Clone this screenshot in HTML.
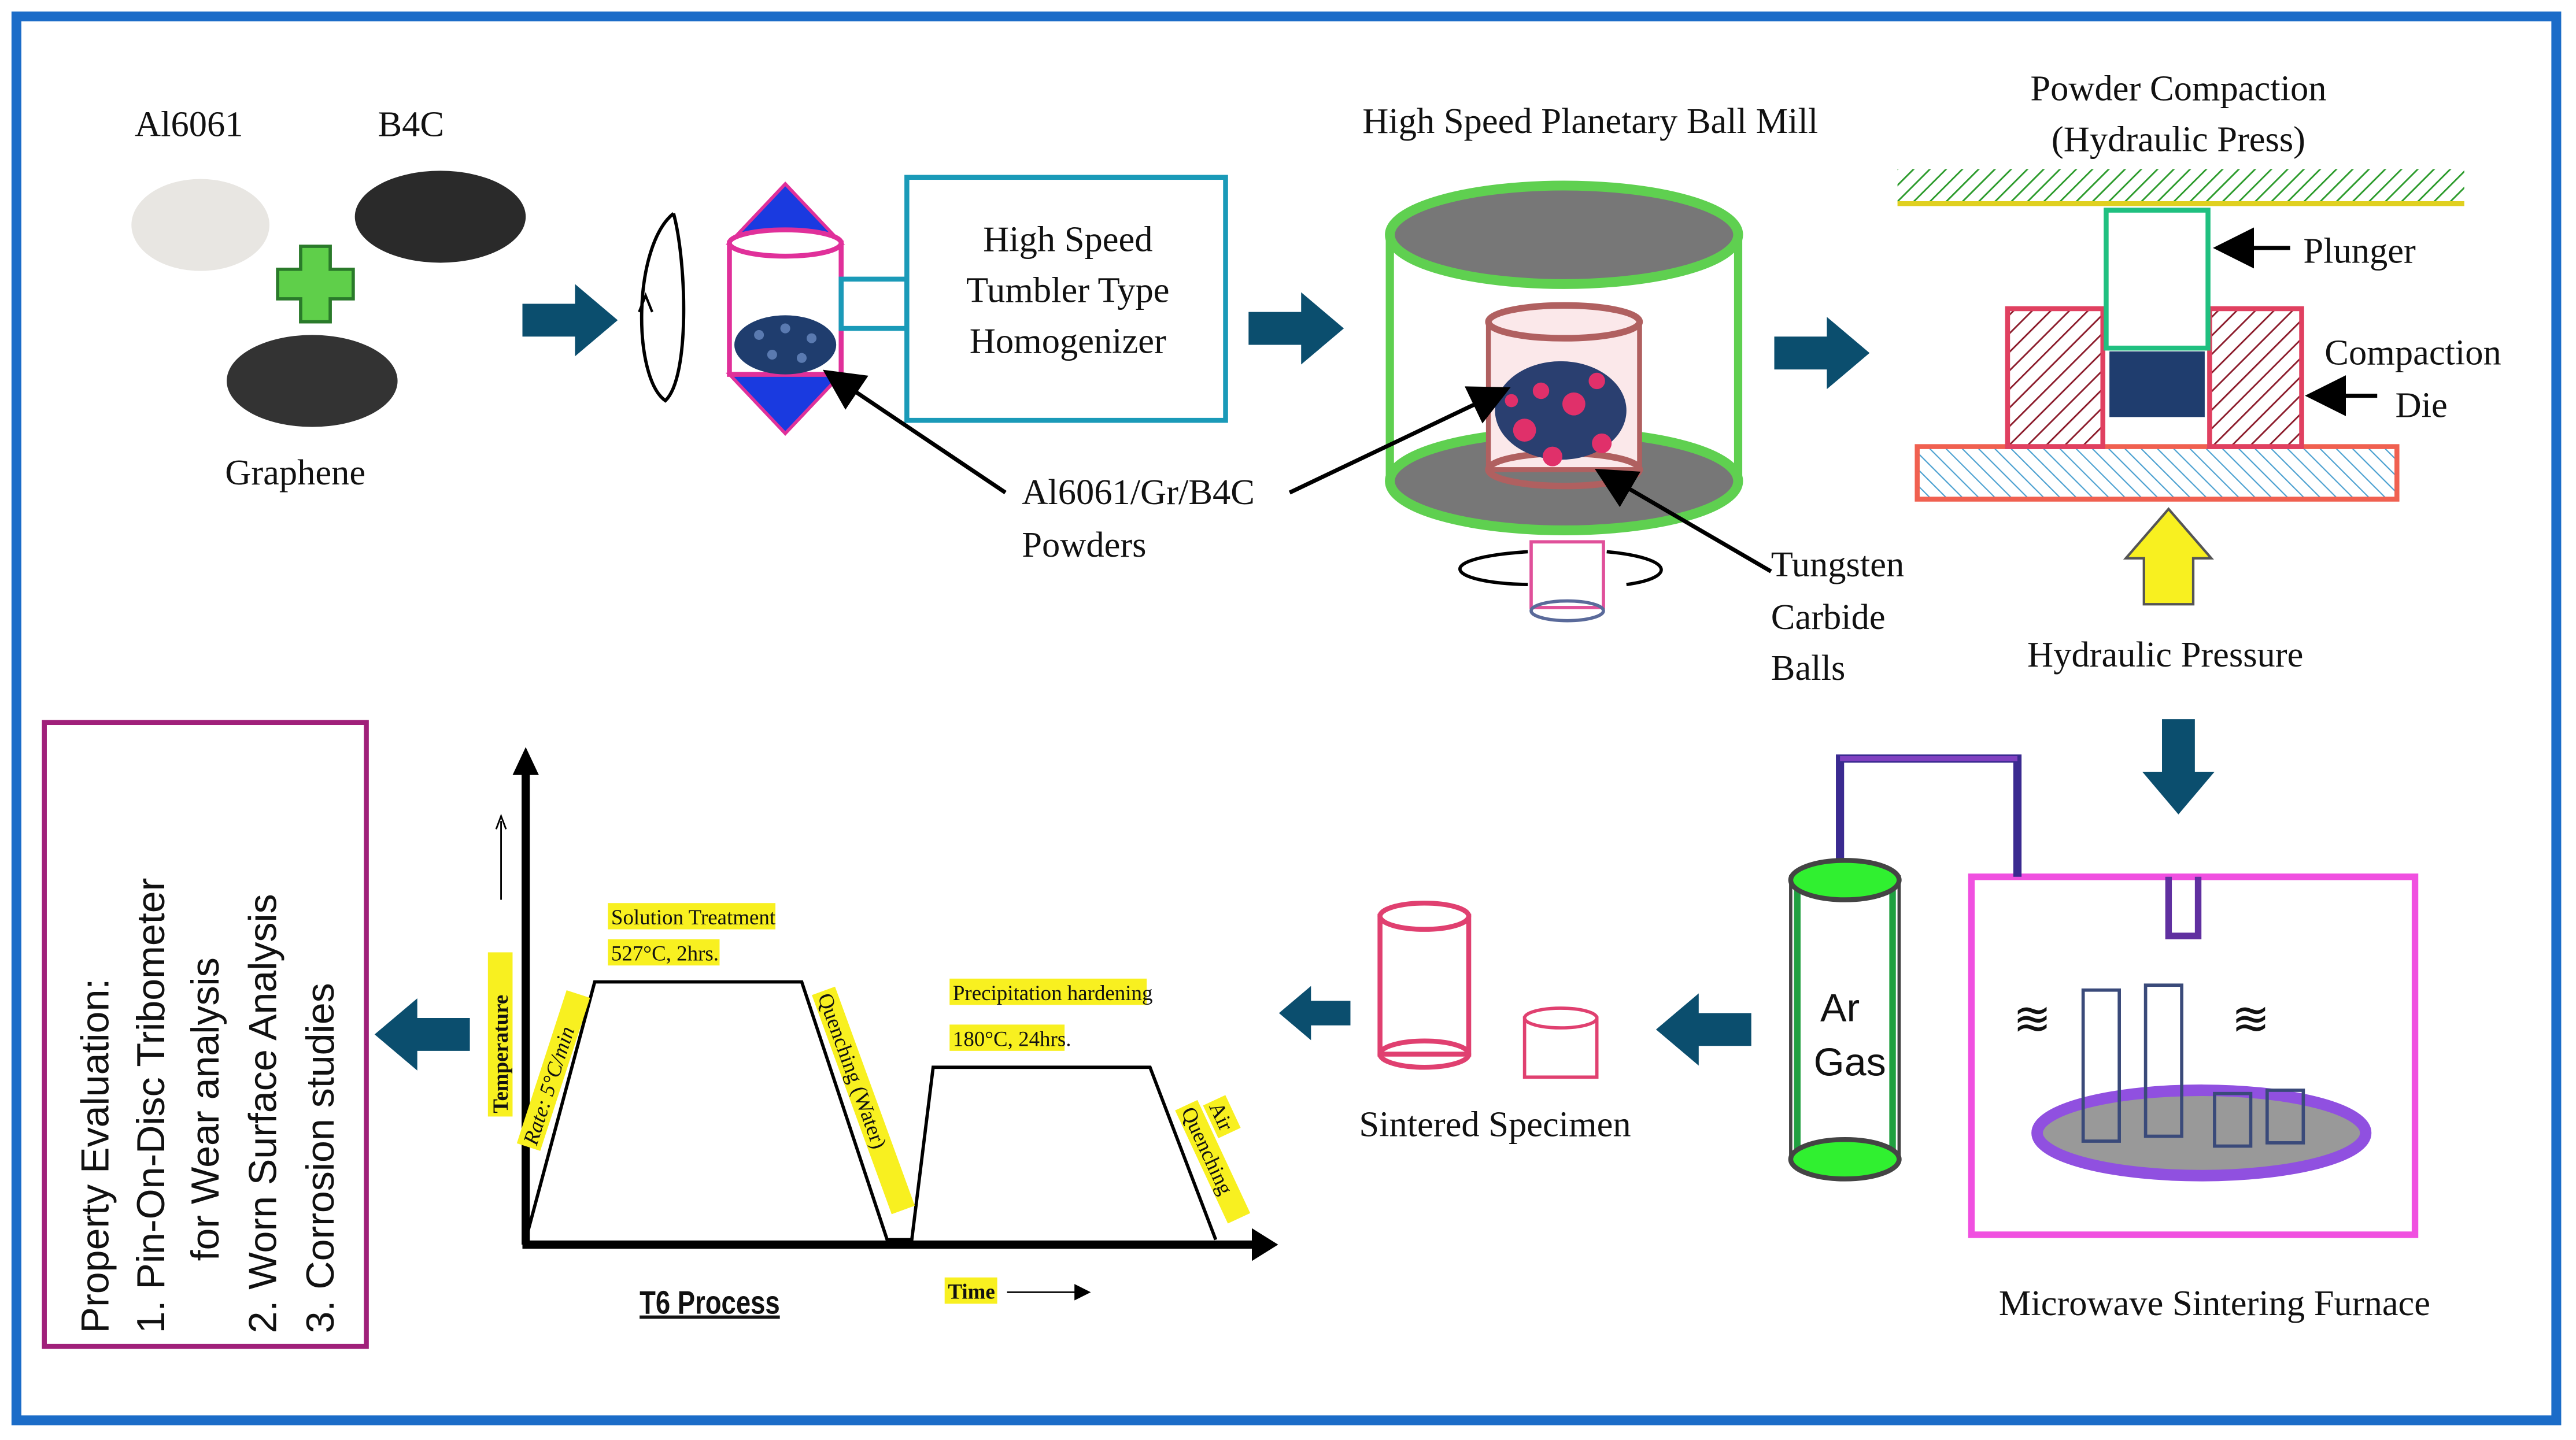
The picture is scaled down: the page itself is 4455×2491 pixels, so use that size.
<!DOCTYPE html>
<html><head><meta charset="utf-8"><style>
html,body{margin:0;padding:0;background:#fff;}
svg{display:block;}
text{font-family:"Liberation Serif",serif;fill:#111;}
.s{font-family:"Liberation Sans",sans-serif;}
</style></head><body>
<svg width="4455" height="2491" viewBox="0 0 1568 877" preserveAspectRatio="none" xmlns="http://www.w3.org/2000/svg">
<defs>
<pattern id="h1" width="8" height="8" patternUnits="userSpaceOnUse" patternTransform="rotate(45)"><line x1="0" y1="0" x2="0" y2="8" stroke="#8b1a2a" stroke-width="2"/></pattern>
<pattern id="h2" width="7" height="7" patternUnits="userSpaceOnUse" patternTransform="rotate(-45)"><line x1="0" y1="0" x2="0" y2="7" stroke="#4aa0d0" stroke-width="1.5"/></pattern>
<pattern id="h3" width="7" height="7" patternUnits="userSpaceOnUse" patternTransform="rotate(45)"><line x1="0" y1="0" x2="0" y2="7" stroke="#2a9a2a" stroke-width="2"/></pattern>
<marker id="ar" markerWidth="10" markerHeight="10" refX="8" refY="5" orient="auto"><path d="M0,0 L10,5 L0,10z" fill="#000"/></marker>
<g id="bigArrow"><path d="M0,-10 L32,-10 L32,-22 L58,0 L32,22 L32,10 L0,10z" fill="#0b4e6e"/></g>
</defs>
<rect x="0" y="0" width="1568" height="877" fill="#fff"/>
<rect x="10" y="10" width="1546" height="855" fill="none" stroke="#1b6cc8" stroke-width="6"/>

<text x="82" y="83" font-size="22">Al6061</text>
<text x="230" y="83" font-size="22">B4C</text>
<ellipse cx="122" cy="137" rx="42" ry="28" fill="#e8e6e2"/>
<ellipse cx="268" cy="132" rx="52" ry="28" fill="#2a2a2a"/>
<ellipse cx="190" cy="232" rx="52" ry="28" fill="#333"/>
<path d="M183,150h18v14h14v18h-14v14h-18v-14h-14v-18h14z" fill="#5fcf4a" stroke="#2a7a2a" stroke-width="2"/>
<text x="137" y="295" font-size="22">Graphene</text>
<use href="#bigArrow" x="318" y="195"/>
<path d="M410,130 C385,150 385,230 405,244 C420,230 418,160 410,130" fill="none" stroke="#000" stroke-width="2"/>
<path d="M389,190 l4,-10 l4,10" fill="none" stroke="#000" stroke-width="1.5"/>

<path d="M478,112 L512,148 L444,148z" fill="#1a3ae0" stroke="#e0309a" stroke-width="2"/>
<path d="M478,264 L512,228 L444,228z" fill="#1a3ae0" stroke="#e0309a" stroke-width="2"/>
<rect x="444" y="148" width="68" height="80" fill="#fff" stroke="#e0309a" stroke-width="3"/>
<ellipse cx="478" cy="148" rx="34" ry="8" fill="#fff" stroke="#e0309a" stroke-width="3"/>
<ellipse cx="478" cy="210" rx="31" ry="18" fill="#1f3d6e"/>
<g fill="#5a7ab0"><circle cx="462" cy="204" r="3"/><circle cx="478" cy="200" r="3"/><circle cx="494" cy="206" r="3"/><circle cx="470" cy="216" r="3"/><circle cx="488" cy="218" r="3"/></g>
<rect x="512" y="170" width="40" height="30" fill="none" stroke="#1a9ab8" stroke-width="3"/>
<rect x="552" y="108" width="194" height="148" fill="#fff" stroke="#1a9ab8" stroke-width="3"/>
<text x="650" y="153" font-size="22" text-anchor="middle">High Speed</text>
<text x="650" y="184" font-size="22" text-anchor="middle">Tumbler Type</text>
<text x="650" y="215" font-size="22" text-anchor="middle">Homogenizer</text>
<text x="622" y="307" font-size="22">Al6061/Gr/B4C</text>
<text x="622" y="339" font-size="22">Powders</text>
<use href="#bigArrow" x="760" y="200"/>

<text x="968" y="81" font-size="22" text-anchor="middle">High Speed Planetary Ball Mill</text>
<rect x="846" y="143" width="212" height="150" fill="#fff" stroke="#5fd050" stroke-width="5"/>
<ellipse cx="952" cy="143" rx="106" ry="30" fill="#777" stroke="#5fd050" stroke-width="6"/>
<ellipse cx="952" cy="293" rx="106" ry="30" fill="#777" stroke="#5fd050" stroke-width="6"/>
<rect x="906" y="196" width="92" height="90" fill="#fbe8ea" stroke="#b06060" stroke-width="3"/>
<ellipse cx="952" cy="196" rx="46" ry="10" fill="#fbe8ea" stroke="#b06060" stroke-width="4"/>
<ellipse cx="952" cy="286" rx="46" ry="10" fill="none" stroke="#b06060" stroke-width="4"/>
<ellipse cx="950" cy="250" rx="40" ry="30" fill="#2a3f70"/>
<g fill="#e0306a"><circle cx="928" cy="262" r="7"/><circle cx="958" cy="246" r="7"/><circle cx="975" cy="270" r="6"/><circle cx="945" cy="278" r="6"/><circle cx="938" cy="238" r="5"/><circle cx="972" cy="232" r="5"/><circle cx="920" cy="244" r="4"/></g>
<rect x="932" y="330" width="44" height="40" fill="#fff" stroke="#e0509a" stroke-width="2"/>
<ellipse cx="954" cy="372" rx="22" ry="6" fill="none" stroke="#5a6a9a" stroke-width="2"/>
<path d="M930,336 C870,340 880,355 930,356" fill="none" stroke="#000" stroke-width="2"/>
<path d="M978,336 C1020,340 1020,352 990,356" fill="none" stroke="#000" stroke-width="2"/>
<text x="1078" y="351" font-size="22">Tungsten</text>
<text x="1078" y="383" font-size="22">Carbide</text>
<text x="1078" y="414" font-size="22">Balls</text>
<use href="#bigArrow" x="1080" y="215"/>

<text x="1326" y="61" font-size="22" text-anchor="middle">Powder Compaction</text>
<text x="1326" y="92" font-size="22" text-anchor="middle">(Hydraulic Press)</text>
<rect x="1155" y="103" width="345" height="20" fill="url(#h3)"/>
<line x1="1155" y1="124" x2="1500" y2="124" stroke="#e0d020" stroke-width="3"/>
<rect x="1167" y="272" width="292" height="32" fill="url(#h2)" stroke="#f06050" stroke-width="3"/>
<rect x="1222" y="188" width="58" height="84" fill="url(#h1)" stroke="#e04060" stroke-width="3"/>
<rect x="1345" y="188" width="56" height="84" fill="url(#h1)" stroke="#e04060" stroke-width="3"/>
<rect x="1282" y="128" width="62" height="84" fill="#fff" stroke="#20c080" stroke-width="3"/>
<rect x="1284" y="214" width="58" height="40" fill="#1f3d6e"/>
<line x1="1394" y1="151" x2="1352" y2="151" stroke="#000" stroke-width="2.5" marker-end="url(#ar)"/>
<text x="1402" y="160" font-size="22">Plunger</text>
<text x="1415" y="222" font-size="22">Compaction</text>
<text x="1458" y="254" font-size="22">Die</text>
<line x1="1447" y1="241" x2="1408" y2="241" stroke="#000" stroke-width="2.5" marker-end="url(#ar)"/>
<path d="M1305,368 L1305,340 L1294,340 L1320,310 L1346,340 L1335,340 L1335,368z" fill="#f8f020" stroke="#555" stroke-width="1.5"/>
<text x="1318" y="406" font-size="22" text-anchor="middle">Hydraulic Pressure</text>
<use href="#bigArrow" transform="translate(1326,438) rotate(90)"/>

<rect x="1200" y="534" width="270" height="218" fill="#fff" stroke="#f050e0" stroke-width="4"/>
<path d="M1120,540 V462 H1228 V534" fill="none" stroke="#3a2a90" stroke-width="5"/>
<line x1="1120" y1="462" x2="1228" y2="462" stroke="#8040c0" stroke-width="3"/>
<path d="M1320,534 V570 H1338 V534" fill="none" stroke="#6030a0" stroke-width="4"/>
<ellipse cx="1340" cy="690" rx="100" ry="26" fill="#999" stroke="#9050e0" stroke-width="7"/>
<g fill="none" stroke="#3a4a7a" stroke-width="2">
<rect x="1268" y="603" width="22" height="92"/><rect x="1306" y="600" width="22" height="92"/>
<rect x="1348" y="666" width="22" height="32"/><rect x="1380" y="664" width="22" height="32"/>
</g>
<text x="1237" y="630" font-size="28" text-anchor="middle">≋</text>
<text x="1370" y="630" font-size="28" text-anchor="middle">≋</text>
<text x="1348" y="801" font-size="22" text-anchor="middle">Microwave Sintering Furnace</text>

<rect x="1090" y="534" width="66" height="172" fill="#fff" stroke="#444" stroke-width="2"/>
<rect x="1094" y="540" width="58" height="164" fill="none" stroke="#20a040" stroke-width="4"/>
<ellipse cx="1123" cy="536" rx="33" ry="12" fill="#30f030" stroke="#444" stroke-width="3"/>
<ellipse cx="1123" cy="706" rx="33" ry="12" fill="#30f030" stroke="#444" stroke-width="3"/>
<text x="1120" y="622" font-size="24" class="s" text-anchor="middle">Ar</text>
<text x="1126" y="655" font-size="24" class="s" text-anchor="middle">Gas</text>
<use href="#bigArrow" transform="translate(1066,627) rotate(180)"/>

<rect x="840" y="558" width="54" height="84" fill="#fff" stroke="#e04070" stroke-width="3"/>
<ellipse cx="867" cy="558" rx="27" ry="8" fill="#fff" stroke="#e04070" stroke-width="3"/>
<ellipse cx="867" cy="642" rx="27" ry="8" fill="none" stroke="#e04070" stroke-width="3"/>
<rect x="928" y="620" width="44" height="36" fill="#fff" stroke="#e04070" stroke-width="2"/>
<ellipse cx="950" cy="620" rx="22" ry="6" fill="#fff" stroke="#e04070" stroke-width="2"/>
<text x="910" y="692" font-size="22" text-anchor="middle">Sintered Specimen</text>
<use href="#bigArrow" transform="translate(822,617) rotate(180) scale(0.75)"/>

<line x1="320" y1="758" x2="320" y2="470" stroke="#000" stroke-width="5"/>
<path d="M312,472 L320,455 L328,472z" fill="#000"/>
<line x1="318" y1="758" x2="765" y2="758" stroke="#000" stroke-width="5"/>
<path d="M762,748 L778,758 L762,768z" fill="#000"/>
<polyline points="320,755 362,598 488,598 540,755 555,755 568,650 700,650 740,755" fill="none" stroke="#000" stroke-width="2"/>
<g font-size="13">
<rect x="370" y="550" width="102" height="16" fill="#f8f020"/><text x="372" y="563" font-size="13">Solution Treatment</text>
<rect x="370" y="572" width="68" height="16" fill="#f8f020"/><text x="372" y="585" font-size="13">527°C, 2hrs.</text>
<rect x="578" y="596" width="120" height="16" fill="#f8f020"/><text x="580" y="609" font-size="13">Precipitation hardening</text>
<rect x="578" y="624" width="70" height="16" fill="#f8f020"/><text x="580" y="637" font-size="13">180°C, 24hrs.</text>
<g transform="translate(326,700) rotate(-72)"><rect x="0" y="-12" width="98" height="15" fill="#f8f020"/><text x="2" y="0" font-size="13" font-style="italic">Rate: 5°C/min</text></g>
<g transform="translate(497,605) rotate(70)"><rect x="0" y="-12" width="142" height="15" fill="#f8f020"/><text x="2" y="0" font-size="13">Quenching (Water)</text></g>
<g transform="translate(735,672) rotate(65)"><rect x="0" y="-12" width="22" height="15" fill="#f8f020"/><text x="2" y="0" font-size="13">Air</text></g>
<g transform="translate(718,675) rotate(65)"><rect x="0" y="-12" width="76" height="15" fill="#f8f020"/><text x="2" y="0" font-size="13">Quenching</text></g>
<g transform="translate(309,680) rotate(-90)"><rect x="0" y="-12" width="100" height="15" fill="#f8f020"/><text x="2" y="0" font-size="13" font-weight="bold">Temperature</text></g>
<rect x="575" y="778" width="32" height="16" fill="#f8f020"/><text x="577" y="791" font-size="13" font-weight="bold">Time</text>
</g>
<line x1="305" y1="548" x2="305" y2="500" stroke="#000" stroke-width="1"/>
<path d="M302,505 L305,497 L308,505" fill="none" stroke="#000"/>
<line x1="613" y1="787" x2="662" y2="787" stroke="#000" stroke-width="1" marker-end="url(#ar)"/>
<text x="432" y="800" font-size="20" font-weight="bold" text-anchor="middle" text-decoration="underline" style="font-family:'Liberation Sans',sans-serif" transform="translate(432,0) scale(0.8,1) translate(-432,0)">T6 Process</text>

<use href="#bigArrow" transform="translate(286,630) rotate(180)"/>

<rect x="27" y="440" width="196" height="380" fill="#fff" stroke="#a0207a" stroke-width="3"/>
<g font-size="24" transform="rotate(-90)">
<text x="-812" y="66" class="s">Property Evaluation:</text>
<text x="-812" y="100" class="s">1.   Pin-On-Disc Tribometer</text>
<text x="-768" y="133" class="s">for Wear analysis</text>
<text x="-812" y="168" class="s">2.   Worn Surface Analysis</text>
<text x="-812" y="203" class="s">3.   Corrosion studies</text>
</g>

<line x1="612" y1="300" x2="505" y2="228" stroke="#000" stroke-width="2.5" marker-end="url(#ar)"/>
<line x1="785" y1="300" x2="915" y2="238" stroke="#000" stroke-width="2.5" marker-end="url(#ar)"/>
<line x1="1078" y1="348" x2="975" y2="288" stroke="#000" stroke-width="2.5" marker-end="url(#ar)"/>
</svg>
</body></html>
